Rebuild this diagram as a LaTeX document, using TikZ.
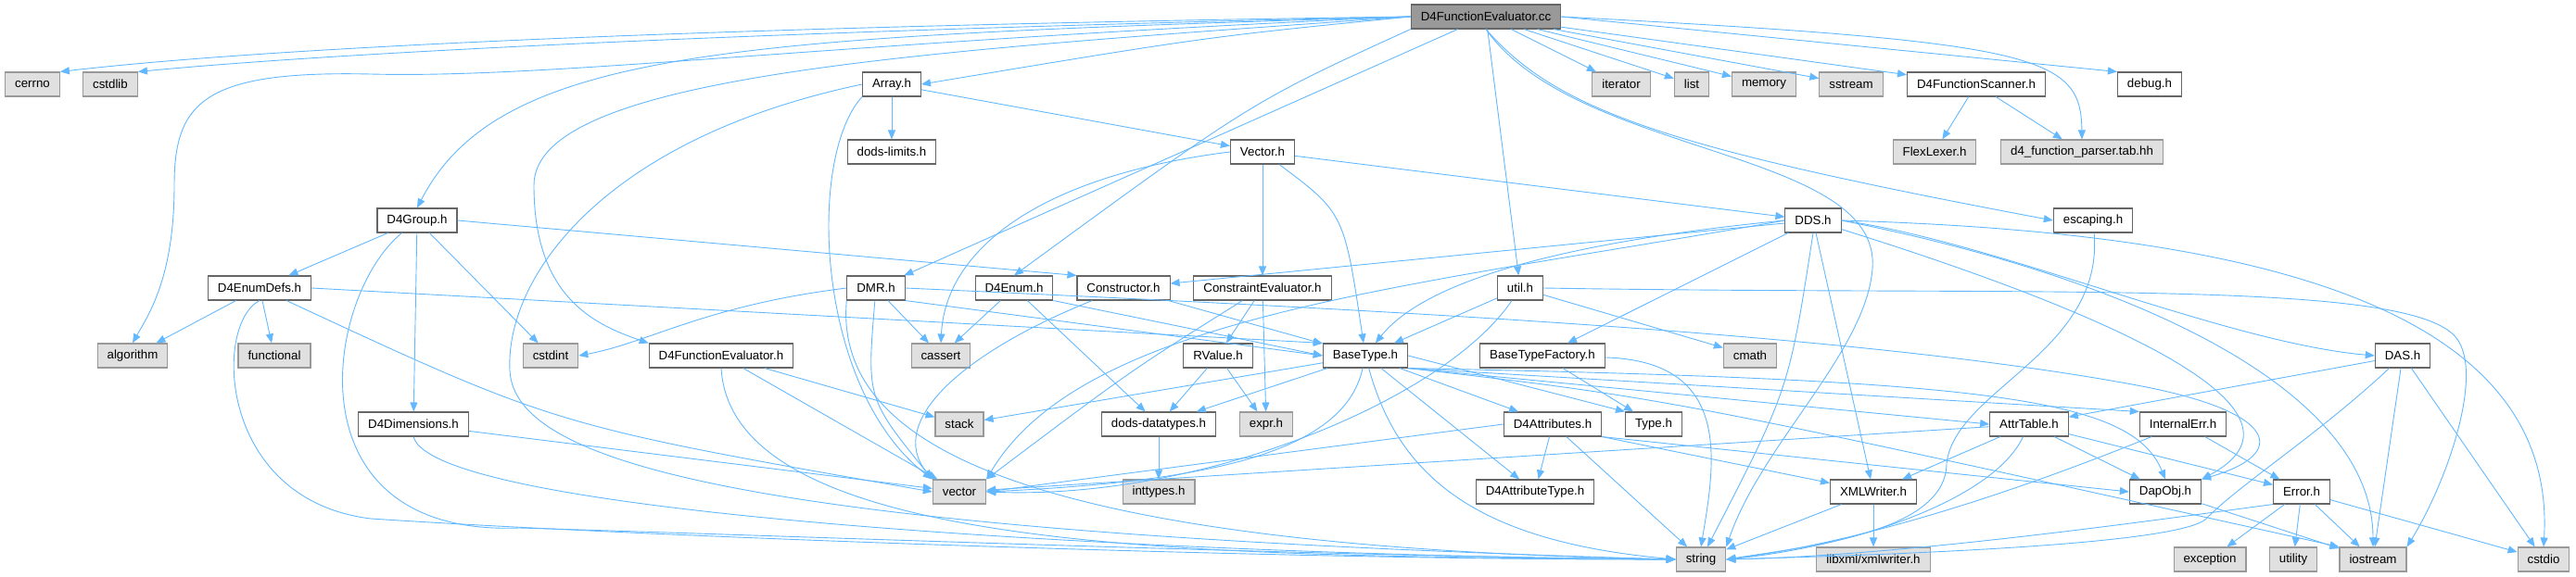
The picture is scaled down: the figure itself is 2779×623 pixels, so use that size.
\documentclass[tikz,border=0pt]{standalone}
\usepackage{fontspec}
\setmainfont{Liberation Sans}
\usepackage{tikz}
\usetikzlibrary{positioning,arrows.meta}
\usepackage{xcolor}
\definecolor{linkblue}{RGB}{99,184,255}
\definecolor{sysfill}{RGB}{224,224,224}
\definecolor{rimgrey}{RGB}{153,153,153}
\definecolor{rimdark}{RGB}{102,102,102}

\tikzset{
  hfile/.style={rectangle,draw=rimdark,fill=white,line width=1.1pt,
    font=\fontsize{13.3}{16}\selectfont,inner xsep=10.5pt,inner ysep=0pt,minimum height=26pt},
  sysfile/.style={hfile,draw=rimgrey,fill=sysfill},
  rootfile/.style={hfile,draw=rimdark,fill=rimgrey},
  incl/.style={draw=linkblue,line width=0.9pt,-{Triangle[length=10pt,width=8pt]}}
}

\begin{document}
\begin{tikzpicture}[x=1pt,y=-1pt]
\useasboundingbox (0,0) rectangle (2779,623);

\node[rootfile] (ev) at (1603,18) {D4FunctionEvaluator.cc};

\node[sysfile] (cerrno) at (35,91) {cerrno};
\node[sysfile] (cstdlib) at (119,91) {cstdlib};
\node[hfile] (array) at (962,91) {Array.h};
\node[sysfile] (iterator) at (1749,91) {iterator};
\node[sysfile] (list) at (1825,91) {list};
\node[sysfile] (memory) at (1903,91) {memory};
\node[sysfile] (sstream) at (1997,91) {sstream};
\node[hfile] (scanner) at (2132,91) {D4FunctionScanner.h};
\node[hfile] (debug) at (2319,91) {debug.h};

\node[hfile] (limits) at (962,164) {dods-limits.h};
\node[hfile] (vectorh) at (1362,164) {Vector.h};
\node[sysfile] (flex) at (2087,164) {FlexLexer.h};
\node[sysfile] (parser) at (2246,164) {d4\_function\_parser.tab.hh};

\node[hfile] (group) at (450,238) {D4Group.h};
\node[hfile] (dds) at (1956,238) {DDS.h};
\node[hfile] (escaping) at (2258,238) {escaping.h};

\node[hfile] (enumdefs) at (280,311) {D4EnumDefs.h};
\node[hfile] (dmr) at (945,311) {DMR.h};
\node[hfile] (enumh) at (1094,311) {D4Enum.h};
\node[hfile] (constructor) at (1212,311) {Constructor.h};
\node[hfile] (ce) at (1362,311) {ConstraintEvaluator.h};
\node[hfile] (util) at (1640,311) {util.h};

\node[sysfile] (algorithm) at (143,384) {algorithm};
\node[sysfile] (functional) at (296,384) {functional};
\node[sysfile] (cstdint) at (594,384) {cstdint};
\node[hfile] (fevalh) at (778,384) {D4FunctionEvaluator.h};
\node[sysfile] (cassert) at (1015,384) {cassert};
\node[hfile] (rvalue) at (1314,384) {RValue.h};
\node[hfile] (basetype) at (1473,384) {BaseType.h};
\node[hfile] (btfactory) at (1664,384) {BaseTypeFactory.h};
\node[sysfile] (cmath) at (1888,384) {cmath};
\node[hfile] (das) at (2592,384) {DAS.h};

\node[hfile] (dims) at (446,458) {D4Dimensions.h};
\node[sysfile] (stack) at (1035,458) {stack};
\node[hfile] (datatypes) at (1250,458) {dods-datatypes.h};
\node[sysfile] (expr) at (1366,458) {expr.h};
\node[hfile] (attributes) at (1675,458) {D4Attributes.h};
\node[hfile] (typeh) at (1784,458) {Type.h};
\node[hfile] (attrtable) at (2189,458) {AttrTable.h};
\node[hfile] (internalerr) at (2355,458) {InternalErr.h};

\node[sysfile] (vector) at (1035,531) {vector};
\node[sysfile] (inttypes) at (1250,531) {inttypes.h};
\node[hfile] (attrtype) at (1656,531) {D4AttributeType.h};
\node[hfile] (xmlwriter) at (2021,531) {XMLWriter.h};
\node[hfile] (dapobj) at (2336,531) {DapObj.h};
\node[hfile] (error) at (2483,531) {Error.h};

\node[sysfile] (string) at (1835,604) {string};
\node[sysfile] (libxml) at (2021,604) {libxml/xmlwriter.h};
\node[sysfile] (exception) at (2384,604) {exception};
\node[sysfile] (utility) at (2474,604) {utility};
\node[sysfile] (iostream) at (2560,604) {iostream};
\node[sysfile] (cstdio) at (2744,604) {cstdio};

\foreach \a/\b in {ev/iterator, ev/list, ev/memory, ev/sstream, ev/scanner,
    ev.east/debug.north west, ev/dmr, ev/util,
    array/limits, array/vectorh, scanner/flex, scanner/parser,
    vectorh/dds, vectorh/ce,
    group/enumdefs, group/dims, group/cstdint, group.east/constructor.north west,
    enumdefs/algorithm, enumdefs/functional, enumdefs.east/basetype.north west,
    dims/vector, fevalh/stack, fevalh/vector,
    dmr/cassert, dmr.south east/basetype.west,
    enumh/cassert, enumh/datatypes, enumh.south east/basetype.west,
    constructor/basetype, ce/rvalue, ce/expr,
    rvalue/datatypes, rvalue/expr, datatypes/inttypes,
    util/basetype, util/cmath,
    basetype/stack, basetype/datatypes, basetype/attributes, basetype/attrtype,
    basetype.east/typeh.north west, basetype.south east/attrtable.west,
    basetype.south east/internalerr.north west,
    btfactory/typeh,
    attributes/attrtype, attributes/string, attributes.west/vector.east,
    attributes.south east/xmlwriter, attributes.south east/dapobj.west,
    dds/constructor, dds/btfactory, dds/xmlwriter,
    attrtable/vector, attrtable/dapobj, attrtable/error, attrtable/xmlwriter,
    das/attrtable, das/cstdio, das/iostream,
    internalerr/error, dapobj/iostream,
    error/exception, error/utility, error/iostream, error/cstdio,
    xmlwriter/string, xmlwriter/libxml}
  \draw[incl] (\a) -- (\b);

\draw[incl] (ev.west) .. controls (800,28) and (300,50) .. (cerrno.north east);
\draw[incl] (ev.west) .. controls (800,34) and (350,58) .. (cstdlib.north east);
\draw[incl] (ev.west) .. controls (900,45) and (600,85) .. (400,80)
  .. controls (220,76) and (188,110) .. (188,200)
  .. controls (188,300) and (160,340) .. (algorithm.north);
\draw[incl] (ev.west) .. controls (800,40) and (540,50) .. (group.north);
\draw[incl] (ev.west) .. controls (1000,55) and (576,80) .. (576,200)
  .. controls (576,320) and (640,350) .. (fevalh.north west);
\draw[incl] (ev.west) .. controls (1300,40) .. (array.east);
\draw[incl] (ev.south west) .. controls (1350,110) .. (enumh.north);
\draw[incl] (ev.south) .. controls (1680,120) and (1800,160) .. (escaping.west);
\draw[incl] (ev.east) .. controls (2200,45) and (2245,60) .. (parser.north);
\draw[incl] (ev.south) .. controls (1700,170) and (2030,160) .. (2020,290)
  .. controls (2013,380) and (1900,480) .. (string.north east);

\draw[incl] (array.south west) .. controls (870,170) and (880,420) .. (vector.north west);
\draw[incl] (array.west) .. controls (650,150) and (545,300) .. (550,400)
  .. controls (555,500) and (800,575) .. (string.west);
\draw[incl] (vectorh) .. controls (1450,230) .. (basetype);
\draw[incl] (vectorh.west) .. controls (1120,190) and (1020,270) .. (cassert.north);

\draw[incl] (group) .. controls (350,320) and (310,580) .. (560,570)
  .. controls (900,580) and (1400,600) .. (string.west);
\draw[incl] (enumdefs.south) .. controls (230,350) and (235,540) .. (400,560)
  .. controls (700,580) and (1400,605) .. (string.west);
\draw[incl] (enumdefs) .. controls (600,460) .. (vector.west);
\draw[incl] (dims.south) .. controls (470,560) and (1300,600) .. (string.west);
\draw[incl] (fevalh.south) .. controls (790,600) and (1300,600) .. (string.west);

\draw[incl] (dmr.west) .. controls (760,330) and (700,370) .. (cstdint.east);
\draw[incl] (dmr) .. controls (935,430) .. (vector.north west);
\draw[incl] (dmr.south west) .. controls (900,480) and (1100,590) .. (string.west);
\draw[incl] (dmr.east) .. controls (1500,335) and (2000,360) .. (2300,415)
  .. controls (2460,444) and (2470,490) .. (dapobj.north east);
\draw[incl] (constructor) .. controls (1040,380) and (955,455) .. (vector.north west);
\draw[incl] (ce) .. controls (1220,400) .. (vector.north east);

\draw[incl] (util) .. controls (1560,430) and (1300,540) .. (vector.east);
\draw[incl] (util.east) .. controls (2200,320) and (2600,300) .. (2650,365)
  .. controls (2680,404) and (2640,520) .. (iostream.north east);

\draw[incl] (basetype) .. controls (1450,490) and (1300,520) .. (vector.east);
\draw[incl] (basetype) .. controls (1510,520) and (1600,585) .. (string.west);
\draw[incl] (basetype.south east) .. controls (2150,410) and (2300,430) .. (dapobj.north);
\draw[incl] (basetype.south east) .. controls (1800,430) .. (iostream.north west);
\draw[incl] (btfactory) .. controls (1870,390) and (1850,500) .. (string.north);

\draw[incl] (dds.west) .. controls (1520,310) and (1170,340) .. (vector.north east);
\draw[incl] (dds.west) .. controls (1700,260) and (1540,300) .. (basetype);
\draw[incl] (dds.south) .. controls (1930,420) .. (string);
\draw[incl] (dds.east) .. controls (2150,260) and (2400,370) .. (das.west);
\draw[incl] (dds) .. controls (2250,330) and (2520,440) .. (dapobj.north east);
\draw[incl] (dds.east) .. controls (2400,250) and (2760,320) .. (cstdio.north);
\draw[incl] (dds.east) .. controls (2300,300) and (2560,420) .. (iostream.north);

\draw[incl] (das) .. controls (2500,470) and (2420,520) .. (2380,560)
  .. controls (2350,590) and (2000,600) .. (string.east);
\draw[incl] (internalerr) .. controls (2250,500) and (2050,580) .. (string.east);
\draw[incl] (attrtable) .. controls (2150,540) and (2000,590) .. (string.east);
\draw[incl] (error.south west) .. controls (2300,565) and (2050,600) .. (string.east);
\draw[incl] (escaping) .. controls (2270,380) and (2110,420) .. (2100,500)
  .. controls (2100,575) and (1950,590) .. (string.east);
\end{tikzpicture}
\end{document}
